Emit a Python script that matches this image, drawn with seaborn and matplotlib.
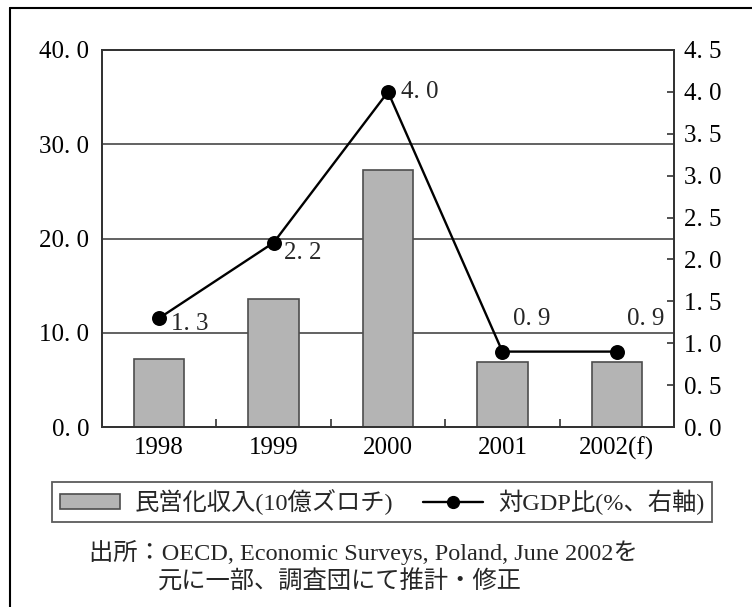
import matplotlib
matplotlib.use("Agg")
import matplotlib.pyplot as plt
import seaborn as sns
import pandas as pd
from matplotlib.patches import Patch
from matplotlib.lines import Line2D
from matplotlib.ticker import FixedLocator, FuncFormatter

# Privatisation proceeds (bn PLN) and their share of GDP (%)
years = ["1998", "1999", "2000", "2001", "2002(f)"]
proceeds = [7.2, 13.6, 27.3, 6.9, 6.9]
gdp_ratio = [1.3, 2.2, 4.0, 0.9, 0.9]
left_ticks = [0, 10, 20, 30, 40]
right_ticks = [0.0, 0.5, 1.0, 1.5, 2.0, 2.5, 3.0, 3.5, 4.0, 4.5]
bar_label = "民営化収入(10億ズロチ)"
line_label = "対GDP比(%、右軸)"
source_lines = ["出所：OECD, Economic Surveys, Poland, June 2002を",
                "元に一部、調査団にて推計・修正"]

sns.set_theme(style="white")
plt.rcParams["font.family"] = ["Liberation Serif", "Noto Sans CJK JP"]
MIXED = ["Liberation Serif", "Noto Sans CJK JP"]
INK = "#333333"
NUM_SIZE = 18
TXT_SIZE = 17.5


def jp_num(v, _=None):
    return f"{v:.1f}".replace(".", ". ")


df = pd.DataFrame({"year": years, "proceeds": proceeds, "ratio": gdp_ratio})

fig = plt.figure(figsize=(7.52, 6.07), dpi=100)
ax = fig.add_axes([102 / 752, 1 - 427 / 607, 572 / 752, 377 / 607])

sns.barplot(data=df, x="year", y="proceeds", ax=ax, color="#b4b4b4",
            edgecolor="#4d4d4d", linewidth=1.2, width=0.44, saturation=1)
ax.set_axisbelow(True)
ax.set_ylim(0, 40)
ax.yaxis.set_major_locator(FixedLocator(left_ticks))
ax.yaxis.set_major_formatter(FuncFormatter(jp_num))
ax.yaxis.grid(True, color="#555555", linewidth=1.3)
ax.xaxis.grid(False)
ax.set_xlabel("")
ax.set_ylabel("")
ax.tick_params(axis="y", length=0, pad=9, labelsize=NUM_SIZE, colors="black")
ax.tick_params(axis="x", which="major", length=0, pad=7, labelsize=NUM_SIZE,
               colors="black")
ax.xaxis.set_minor_locator(FixedLocator([0.5, 1.5, 2.5, 3.5]))
ax.tick_params(axis="x", which="minor", direction="in", length=6,
               width=1.2, color=INK, bottom=True)
for s in ax.spines.values():
    s.set_color(INK)
    s.set_linewidth(1.3)

ax2 = ax.twinx()
sns.pointplot(data=df, x="year", y="ratio", ax=ax2, color="black",
              markers="o", markersize=9.5, linewidth=1.7, errorbar=None)
ax2.set_ylim(0, 4.5)
ax2.set_xlim(-0.5, 4.5)
ax.set_xlim(-0.5, 4.5)
ax2.yaxis.set_major_locator(FixedLocator(right_ticks))
ax2.yaxis.set_major_formatter(FuncFormatter(jp_num))
ax2.tick_params(axis="y", direction="in", length=5, width=1.2, color=INK,
                pad=7, labelsize=NUM_SIZE, labelcolor="black")
ax2.set_ylabel("")
ax2.set_xlabel("")
for s in ax2.spines.values():
    s.set_color(INK)
    s.set_linewidth(1.3)

offsets = [(22.0, -4.3), (21.3, -7.2), (22.7, 0.0), (20.9, 23.8), (20.9, 23.8)]
for i, (v, off) in enumerate(zip(gdp_ratio, offsets)):
    ax2.annotate(jp_num(v), (i, v), xytext=off, textcoords="offset points",
                 ha="center", va="center", fontsize=NUM_SIZE)

handles = [Patch(facecolor="#b4b4b4", edgecolor="#4d4d4d", linewidth=1.2),
           Line2D([], [], color="black", linewidth=1.7, marker="o",
                  markersize=8.5)]
leg = fig.legend(handles, [bar_label, line_label], loc="center",
                 bbox_to_anchor=(382 / 752, 1 - 502 / 607), ncol=2,
                 frameon=True, fancybox=False, edgecolor="#333333",
                 handlelength=2.5, handleheight=0.6, columnspacing=1.2,
                 handletextpad=0.6, borderpad=0.3, borderaxespad=0,
                 prop={"family": MIXED, "size": TXT_SIZE})
leg.get_frame().set_linewidth(1.3)

fig.text(89 / 752, 1 - 552 / 607, source_lines[0], ha="left", va="center",
         family=MIXED, fontsize=TXT_SIZE)
fig.text(158 / 752, 1 - 582 / 607, source_lines[1], ha="left", va="center",
         family=MIXED, fontsize=TXT_SIZE)

# frame around the whole figure (left and top edges)
fig.add_artist(Line2D([10 / 752, 10 / 752], [0, 1 - 8 / 607],
                      transform=fig.transFigure, color="black", lw=1.5))
fig.add_artist(Line2D([10 / 752, 1], [1 - 8 / 607, 1 - 8 / 607],
                      transform=fig.transFigure, color="black", lw=1.5))

fig.savefig("out.png", dpi=100)
